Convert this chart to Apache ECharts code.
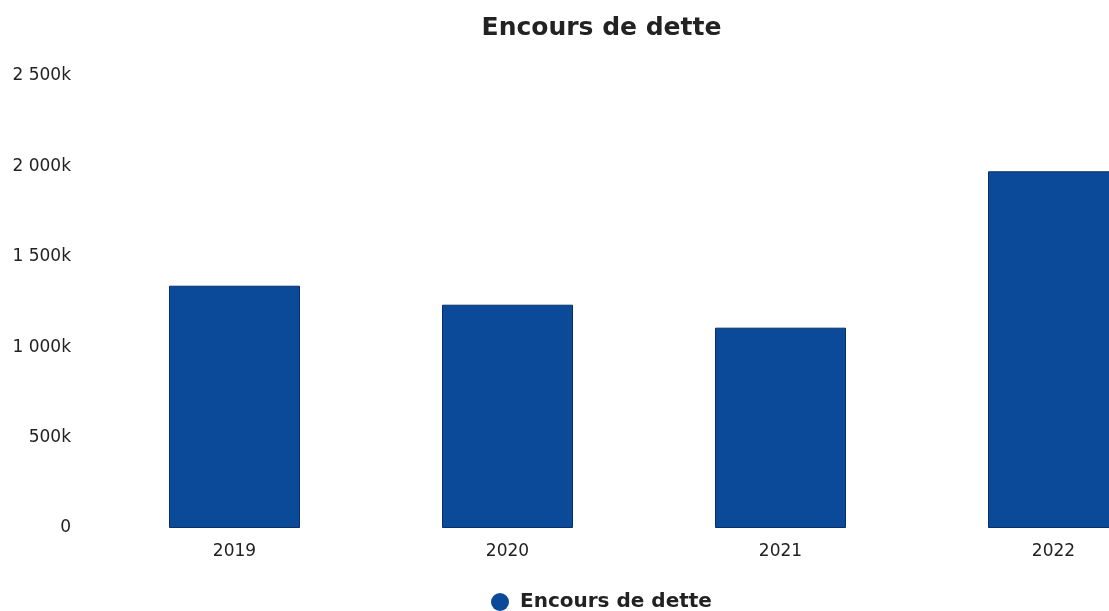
<!DOCTYPE html>
<html>
<head>
<meta charset="utf-8">
<script src="https://cdn.jsdelivr.net/npm/echarts@6/dist/echarts.min.js"></script>
<style>
  html, body { margin: 0; padding: 0; background: #ffffff; overflow: hidden; }
  #chart { width: 1203px; height: 611px; }
</style>
</head>
<body>
<div id="chart"></div>
<script>
// Outstanding debt per year, in thousands
const years = ['2019', '2020', '2021', '2022'];
const encours = [1340, 1235, 1108, 1973];
const seriesName = 'Encours de dette';

// "2 500k" style labels: space as thousands separator, k suffix
function formatK(v) {
  if (v === 0) return '0';
  return String(v).replace(/\B(?=(\d{3})+(?!\d))/g, ' ') + 'k';
}

const chart = echarts.init(document.getElementById('chart'));
chart.setOption({
  backgroundColor: '#ffffff',
  animation: false,
  title: {
    text: 'Encours de dette',
    left: 'center',
    top: 11,
    textStyle: { fontFamily: 'DejaVu Sans', fontWeight: 'bold', fontSize: 25, color: '#222222' }
  },
  legend: {
    data: [seriesName],
    top: 587,
    left: 486,
    icon: 'circle',
    itemWidth: 18,
    itemHeight: 18,
    itemGap: 10,
    itemStyle: { borderWidth: 0 },
    textStyle: { fontFamily: 'DejaVu Sans', fontWeight: 'bold', fontSize: 20, color: '#222222', padding: [0, 0, 0, 6] }
  },
  grid: { left: 98, top: 76, width: 1092, bottom: 83, containLabel: false },
  xAxis: {
    type: 'category',
    data: years,
    axisLine: { show: false },
    axisTick: { show: false },
    axisLabel: { margin: 15, fontFamily: 'DejaVu Sans', fontSize: 17, color: '#222222' }
  },
  yAxis: {
    type: 'value',
    min: 0,
    max: 2500,
    interval: 500,
    axisLine: { show: false },
    axisTick: { show: false },
    splitLine: { show: false },
    axisLabel: { margin: 27, formatter: formatK, fontFamily: 'DejaVu Sans', fontSize: 17, color: '#222222' }
  },
  series: [{
    name: seriesName,
    type: 'bar',
    data: encours,
    barWidth: 131,
    itemStyle: { color: '#0a4a98', borderColor: '#07306a', borderWidth: 1 }
  }]
});
</script>
</body>
</html>
